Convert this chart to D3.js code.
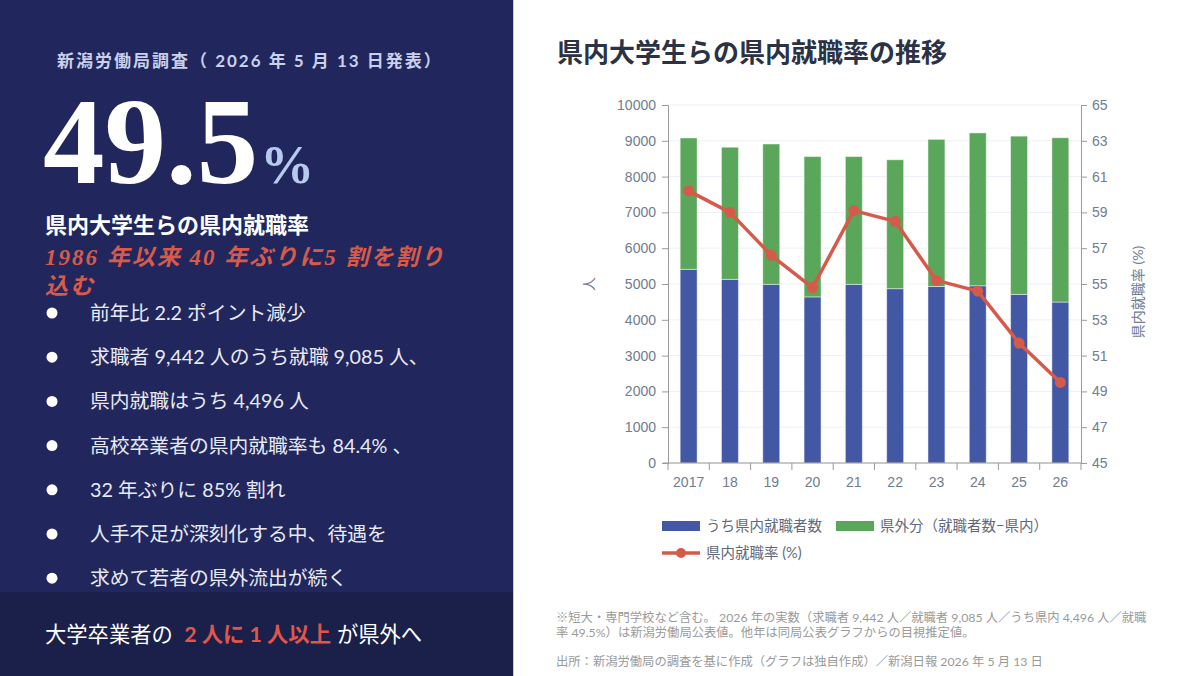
<!DOCTYPE html>
<html lang="ja">
<head>
<meta charset="utf-8">
<script src="https://cdn.jsdelivr.net/npm/d3@7"></script>
<style>
  html, body { margin: 0; padding: 0; background: #fff; }
  svg { display: block; }
  .jp { font-family: Lato, "Noto Sans CJK JP", sans-serif; }
  .axis text { font-family: "Liberation Sans", Arial, sans-serif; font-size: 14px; fill: #6f7c92; }
  .axis path, .axis line { stroke: #9a9a9a; }
</style>
</head>
<body>
<div id="chart"></div>
<script>
// values (2026 = published figures)
const years = ["2017", "18", "19", "20", "21", "22", "23", "24", "25", "26"];
const employedTotal = [9080, 8820, 8910, 8560, 8560, 8470, 9040, 9220, 9130, 9085];
const employedInPref = [5410, 5130, 4990, 4640, 4990, 4870, 4930, 4950, 4710, 4496];
const ratePct = [60.2, 59.0, 56.6, 54.8, 59.1, 58.5, 55.2, 54.6, 51.7, 49.5];
const leftTicks = [0, 1000, 2000, 3000, 4000, 5000, 6000, 7000, 8000, 9000, 10000];
const rightTicks = [45, 47, 49, 51, 53, 55, 57, 59, 61, 63, 65];

const bullets = [
    "前年比 2.2 ポイント減少",
    "求職者 9,442 人のうち就職 9,085 人、",
    "県内就職はうち 4,496 人",
    "高校卒業者の県内就職率も 84.4% 、",
    "32 年ぶりに 85% 割れ",
    "人手不足が深刻化する中、待遇を",
    "求めて若者の県外流出が続く"
];
const footLines = [
    "※短大・専門学校など含む。 2026 年の実数（求職者 9,442 人／就職者 9,085 人／うち県内 4,496 人／就職",
    "率 49.5%）は新潟労働局公表値。他年は同局公表グラフからの目視推定値。"
];
const sourceLine = "出所：新潟労働局の調査を基に作成（グラフは独自作成）／新潟日報 2026 年 5 月 13 日";

const colors = { inPref: "#4358a5", outPref: "#5aa65a", rate: "#d65a4a" };

const rows = years.map((y, i) => ({
    year: y,
    inPref: employedInPref[i],
    outPref: employedTotal[i] - employedInPref[i],
    rate: ratePct[i]
}));

const W = 1200, H = 676;
const svg = d3.select("#chart").append("svg").attr("width", W).attr("height", H);

// ---------- left panel ----------
svg.append("rect").attr("width", 513).attr("height", H).attr("fill", "#21275c");
svg.append("rect").attr("y", 592).attr("width", 513).attr("height", H - 592).attr("fill", "#1a2049");
svg.append("line").attr("x1", 513.5).attr("x2", 513.5).attr("y1", 0).attr("y2", H)
    .attr("stroke", "#c8cad4").attr("stroke-width", 1);

svg.append("text").attr("class", "jp")
    .attr("x", 57).attr("y", 67)
    .attr("font-size", 17).attr("font-weight", 700).attr("letter-spacing", 2)
    .attr("fill", "#c9d0ea")
    .text("新潟労働局調査（ 2026 年 5 月 13 日発表）");

const big = svg.append("text").attr("x", 43).attr("y", 183)
    .attr("font-family", "'Liberation Serif', 'DejaVu Serif', serif").attr("font-weight", 700);
big.append("tspan").attr("font-size", 123).attr("fill", "#ffffff").text("49.5");
big.append("tspan").attr("font-size", 54).attr("fill", "#b8c9ee").attr("dx", 2).text("%");

svg.append("text").attr("class", "jp")
    .attr("x", 45).attr("y", 233)
    .attr("font-size", 22).attr("font-weight", 700).attr("fill", "#ffffff")
    .text("県内大学生らの県内就職率");

const red = svg.append("text")
    .attr("font-family", "'Liberation Serif', 'Noto Sans CJK JP', serif")
    .attr("font-style", "italic").attr("font-weight", 700)
    .attr("font-size", 23).attr("letter-spacing", 2).attr("fill", "#d75b4b");
red.append("tspan").attr("x", 45).attr("y", 265).text("1986 年以来 40 年ぶりに5 割を割り");
red.append("tspan").attr("x", 45).attr("y", 294).text("込む");

const bulletG = svg.append("g").selectAll("g").data(bullets).join("g")
    .attr("transform", (d, i) => `translate(0,${313 + i * 44.2})`);
bulletG.append("circle").attr("cx", 52).attr("cy", 0).attr("r", 5.5).attr("fill", "#ffffff");
bulletG.append("text").attr("class", "jp")
    .attr("x", 90).attr("y", 7).attr("font-size", 19.8).attr("fill", "#e8eaf3")
    .text(d => d);

const banner = svg.append("text").attr("class", "jp")
    .attr("x", 45).attr("y", 642).attr("font-size", 21.3).attr("fill", "#ffffff");
banner.append("tspan").text("大学卒業者の ");
banner.append("tspan").attr("fill", "#e0574a").attr("font-weight", 700).attr("dx", 6).text("2 人に 1 人以上");
banner.append("tspan").attr("dx", 6).text("が県外へ");

// ---------- right chart ----------
svg.append("text")
    .attr("x", 557).attr("y", 62)
    .attr("font-family", "'Noto Sans CJK JP', sans-serif")
    .attr("font-size", 26).attr("font-weight", 700).attr("fill", "#2b3245")
    .text("県内大学生らの県内就職率の推移");

const plot = { left: 668, right: 1081, top: 105, bottom: 463 };

const x = d3.scaleBand().domain(years)
    .range([plot.left, plot.right])
    .paddingInner(0.59).paddingOuter(0.295);
const y = d3.scaleLinear().domain([0, 10000]).range([plot.bottom, plot.top]);
const yR = d3.scaleLinear().domain([45, 65]).range([plot.bottom, plot.top]);

// grid
svg.append("g").selectAll("line").data(leftTicks).join("line")
    .attr("x1", plot.left).attr("x2", plot.right)
    .attr("y1", d => y(d)).attr("y2", d => y(d))
    .attr("stroke", "#eceff5").attr("stroke-width", 1);

// stacked bars
const stack = d3.stack().keys(["inPref", "outPref"])(rows);
svg.append("g").selectAll("g").data(stack).join("g")
    .attr("fill", d => colors[d.key])
    .selectAll("rect").data(d => d).join("rect")
    .attr("x", d => x(d.data.year))
    .attr("width", x.bandwidth())
    .attr("y", d => y(d[1]))
    .attr("height", d => y(d[0]) - y(d[1]))
    .attr("stroke", "rgba(255,255,255,0.45)")
    .attr("stroke-width", 1);

// axes
svg.append("g").attr("class", "axis")
    .attr("transform", `translate(${plot.left},0)`)
    .call(d3.axisLeft(y).tickValues(leftTicks).tickSize(6).tickPadding(6).tickFormat(d3.format("d")));

svg.append("g").attr("class", "axis")
    .attr("transform", `translate(${plot.right},0)`)
    .call(d3.axisRight(yR).tickValues(rightTicks).tickSize(6).tickPadding(5));

const xAxis = svg.append("g").attr("class", "axis")
    .attr("transform", `translate(0,${plot.bottom})`)
    .call(d3.axisBottom(x).tickSize(0).tickPadding(14).tickSizeOuter(0));
xAxis.select(".domain").attr("d", `M${plot.left - 5},0H${plot.right}`);
const half = (x.step() - x.bandwidth()) / 2;
const bounds = years.map(d => x(d) - half).concat([plot.right]);
xAxis.selectAll(".bound").data(bounds).join("line").attr("class", "bound")
    .attr("x1", d => d).attr("x2", d => d)
    .attr("y1", 0).attr("y2", 7);

// axis titles
svg.append("text").attr("class", "jp")
    .attr("transform", `translate(594,${(plot.top + plot.bottom) / 2}) rotate(-90)`)
    .attr("text-anchor", "middle").attr("font-size", 14).attr("fill", "#6f7c92")
    .text("人");
svg.append("text").attr("class", "jp")
    .attr("transform", `translate(1143,${(plot.top + plot.bottom) / 2 + 8}) rotate(-90)`)
    .attr("text-anchor", "middle").attr("font-size", 14).attr("fill", "#6f7c92")
    .text("県内就職率 (%)");

// rate line
const line = d3.line()
    .x(d => x(d.year) + x.bandwidth() / 2)
    .y(d => yR(d.rate));
svg.append("path").datum(rows)
    .attr("d", line)
    .attr("fill", "none")
    .attr("stroke", colors.rate)
    .attr("stroke-width", 3.5)
    .attr("stroke-linejoin", "round");
svg.append("g").selectAll("circle").data(rows).join("circle")
    .attr("cx", d => x(d.year) + x.bandwidth() / 2)
    .attr("cy", d => yR(d.rate))
    .attr("r", 5.5)
    .attr("fill", colors.rate);

// legend
const legend = svg.append("g").attr("class", "jp").attr("font-size", 14.5).attr("fill", "#5f6a7d");
legend.append("rect").attr("x", 662).attr("y", 521).attr("width", 38).attr("height", 10).attr("fill", colors.inPref);
legend.append("text").attr("x", 706).attr("y", 531).text("うち県内就職者数");
legend.append("rect").attr("x", 836).attr("y", 521).attr("width", 38).attr("height", 10).attr("fill", colors.outPref);
legend.append("text").attr("x", 880).attr("y", 531).text("県外分（就職者数−県内）");
legend.append("line").attr("x1", 662).attr("x2", 700).attr("y1", 553).attr("y2", 553)
    .attr("stroke", colors.rate).attr("stroke-width", 3.5);
legend.append("circle").attr("cx", 681).attr("cy", 553).attr("r", 5).attr("fill", colors.rate);
legend.append("text").attr("x", 706).attr("y", 558).text("県内就職率 (%)");

// footnotes
const foot = svg.append("g").attr("class", "jp").attr("font-size", 12.3).attr("fill", "#9a9a9a");
foot.selectAll("text.note").data(footLines).join("text").attr("class", "note")
    .attr("x", 556).attr("y", (d, i) => 622 + i * 15)
    .text(d => d);
foot.append("text").attr("x", 556).attr("y", 666).text(sourceLine);
</script>
</body>
</html>
